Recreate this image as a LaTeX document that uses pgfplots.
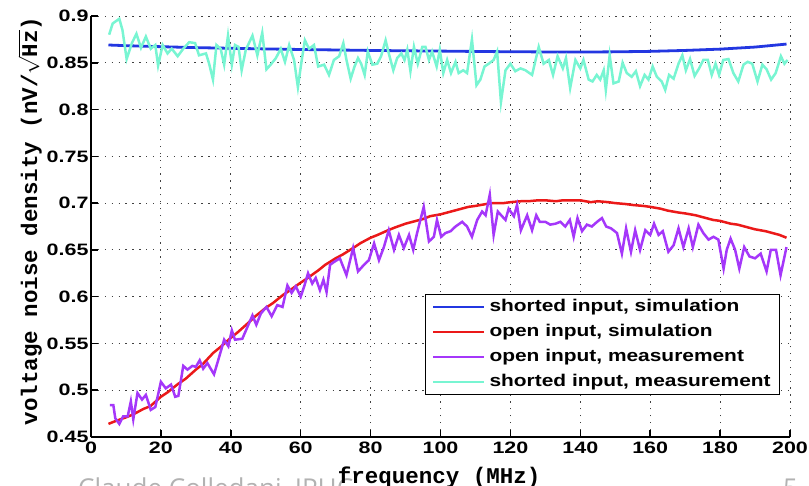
\documentclass[border=0pt]{standalone}
\usepackage{fontspec}
\setmainfont{Liberation Sans}
\newfontfamily\tickfont{Liberation Sans}[FakeStretch=1.3]
\newfontfamily\legfont{Liberation Sans}[FakeStretch=1.23]
\newfontfamily\labfont{Liberation Mono}
\newfontfamily\footfont{Open Sans}
\usepackage{pgfplots}
\pgfplotsset{compat=1.18}
\definecolor{cblue}{RGB}{35,55,225}
\definecolor{cred}{RGB}{235,25,25}
\definecolor{cpurple}{RGB}{165,55,250}
\definecolor{ccyan}{RGB}{120,245,210}
\begin{document}
\begin{tikzpicture}
\node[anchor=base west, inner sep=0pt, text=black!30, font=\footfont\fontsize{26}{28}\selectfont] at (-13pt,-60pt) {Claude Colledani, IPHC};
\node[anchor=base west, inner sep=0pt, text=black!30, font=\footfont\fontsize{26}{28}\selectfont] at (692pt,-60pt) {5};
\begin{axis}[
  at={(0pt,0pt)}, anchor=south west,
  scale only axis, width=699pt, height=421pt,
  xmin=0, xmax=200, ymin=0.45, ymax=0.9,
  xtick={0,20,40,60,80,100,120,140,160,180,200},
  ytick={0.45,0.5,0.55,0.6,0.65,0.7,0.75,0.8,0.85,0.9},
  axis x line*=bottom, axis y line*=left,
  axis line style={line width=2.2pt,-},
  tick style={line width=1.5pt,black},
  major tick length=7pt, tick align=inside,
  grid=major,
  grid style={line width=1pt, black!75, dash pattern=on 1.3pt off 5.6pt},
  /pgf/number format/assume math mode=true,
  ticklabel style={font=\tickfont\bfseries\fontsize{16.5}{18}\selectfont},
  xticklabel style={yshift=-1pt},
  yticklabel style={xshift=1pt},
  xlabel={frequency (MHz)},
  ylabel={voltage noise density (nV/$\sqrt{\mbox{Hz}}$)},
  label style={font=\labfont\bfseries\fontsize{22.5}{24}\selectfont},
  xlabel style={at={(axis description cs:0.498,0)}, anchor=base, yshift=-46pt},
  ylabel style={at={(axis description cs:-0.077,0.513)}, anchor=base},
  legend cell align=left,
  legend image code/.code={\draw[#1,line width=2.5pt] (0pt,0pt) -- (51pt,0pt);},
  legend style={at={(0.986,0.1)}, anchor=south east, draw=black, line width=1pt,
    font=\legfont\bfseries\fontsize{17}{19}\selectfont,
    inner xsep=7pt, inner ysep=2pt,
    nodes={inner sep=2pt, text height=13pt, text depth=4pt},
    row sep=4pt,
    /tikz/every odd column/.append style={column sep=2pt}},
]
\addplot[color=cblue, line width=2.8pt] coordinates {
(5,0.869) (10,0.8683) (20,0.8672) (30,0.8662) (40,0.8655) (50,0.8648) (60,0.8642)
(70,0.8637) (80,0.8632) (90,0.8628) (100,0.8625) (110,0.8621) (120,0.8618)
(130,0.8616) (140,0.8615) (150,0.8617) (160,0.8622) (170,0.8632) (180,0.8646)
(190,0.8668) (199,0.8700)};
\addlegendentry{shorted input, simulation}
\addplot[color=cred, line width=2.5pt] coordinates {
(5,0.464) (7,0.467) (10,0.471) (12,0.474) (15,0.480) (17,0.483) (20,0.493)
(22,0.498) (25,0.507) (27,0.512) (30,0.522) (32,0.528) (35,0.540) (37,0.546)
(40,0.556) (42,0.562) (45,0.572) (47,0.579) (50,0.588) (52,0.593) (55,0.602)
(57,0.607) (60,0.615) (62,0.620) (65,0.628) (67,0.634) (70,0.641) (72,0.645)
(75,0.652) (77,0.657) (80,0.663) (82,0.666) (85,0.671) (87,0.674) (90,0.678)
(92,0.680) (95,0.683) (97,0.686) (100,0.688) (103,0.691) (105,0.693) (108,0.696)
(110,0.697) (113,0.699) (115,0.700) (118,0.700) (120,0.701) (123,0.702) (125,0.702)
(128,0.703) (130,0.703) (133,0.702) (135,0.703) (138,0.703) (140,0.703)
(143,0.701) (145,0.702) (148,0.701) (150,0.700) (153,0.699) (155,0.698)
(158,0.697) (160,0.696) (163,0.694) (165,0.692) (168,0.690) (170,0.689)
(173,0.687) (175,0.685) (178,0.682) (180,0.681) (183,0.678) (185,0.677)
(188,0.674) (190,0.672) (193,0.670) (195,0.668) (197,0.666) (199,0.663)};
\addlegendentry{open input, simulation}
\addplot[color=cpurple, line width=2.5pt] coordinates {
(5.4,0.484) (6.4,0.484) (6.95,0.470) (8.1,0.464) (9.2,0.472) (10.5,0.472)
(11.4,0.488) (12.1,0.469) (13.3,0.497) (14.6,0.490) (15.7,0.495) (17.1,0.479)
(18.4,0.482) (20.0,0.509) (21.4,0.502) (22.9,0.506) (24.1,0.493) (25.0,0.494)
(26.4,0.526) (27.6,0.522) (29.0,0.526) (30.0,0.525) (31.1,0.532) (32.1,0.523)
(33.3,0.529) (35.2,0.517) (36.7,0.536) (38.1,0.554) (39.3,0.547) (40.3,0.564)
(41.2,0.554) (43.3,0.555) (44.8,0.568) (46.2,0.580) (47.3,0.570) (48.6,0.582)
(50.2,0.589) (51.7,0.579) (53.3,0.591) (54.8,0.589) (56.2,0.612) (57.4,0.604)
(58.6,0.611) (60.0,0.600) (61.0,0.611) (62.1,0.625) (63.3,0.614) (64.3,0.620)
(65.5,0.607) (66.5,0.618) (67.4,0.605) (68.4,0.634) (69.5,0.637) (71.2,0.641)
(73.1,0.623) (75.0,0.652) (76.4,0.627) (78.1,0.634) (79.5,0.639) (81.0,0.657)
(82.4,0.639) (83.8,0.653) (85.2,0.671) (86.7,0.650) (88.1,0.666) (89.5,0.652)
(91.0,0.666) (92.2,0.650) (93.3,0.668) (95.2,0.696) (96.7,0.659) (98.1,0.664)
(99.0,0.682) (100.2,0.664) (101.4,0.668) (102.9,0.670) (104.3,0.675) (106.2,0.680)
(107.6,0.675) (109.0,0.664) (110.5,0.682) (111.9,0.691) (112.9,0.687) (114.1,0.709)
(115.2,0.666) (116.4,0.691) (117.6,0.686) (118.6,0.682) (119.5,0.694) (121.0,0.686)
(121.9,0.698) (123.0,0.671) (124.8,0.687) (126.2,0.671) (127.4,0.687) (128.4,0.680)
(130.0,0.680) (131.4,0.677) (132.9,0.678) (134.3,0.680) (135.7,0.675) (137.0,0.682)
(138.1,0.664) (139.2,0.684) (140.5,0.670) (141.9,0.677) (143.3,0.675) (144.8,0.680)
(146.2,0.684) (147.4,0.675) (148.8,0.673) (150.5,0.668) (151.9,0.646) (153.1,0.673)
(154.5,0.648) (155.7,0.671) (157.1,0.650) (158.6,0.671) (160.0,0.666) (161.1,0.678)
(162.4,0.666) (163.6,0.670) (165.2,0.648) (166.7,0.655) (168.1,0.673) (169.5,0.653)
(171.0,0.673) (172.2,0.653) (173.8,0.677) (175.2,0.668) (176.7,0.661) (178.1,0.664)
(179.5,0.661) (181.0,0.630) (181.9,0.650) (183.0,0.662) (184.3,0.650) (185.5,0.630)
(186.9,0.653) (188.4,0.643) (190.0,0.641) (191.6,0.646) (193.3,0.627) (194.5,0.650)
(196.0,0.650) (197.3,0.623) (199.0,0.653)};
\addlegendentry{open input, measurement}
\addplot[color=ccyan, line width=2.5pt] coordinates {
(5.2,0.880) (6.2,0.892) (8.1,0.897) (9.0,0.885) (10.2,0.854) (11.7,0.871)
(13.0,0.881) (14.3,0.866) (15.7,0.878) (17.1,0.865) (18.4,0.869) (19.2,0.847)
(20.5,0.869) (21.9,0.860) (23.1,0.865) (24.8,0.857) (26.4,0.865) (28.1,0.872)
(29.8,0.871) (30.9,0.858) (32.9,0.860) (33.8,0.849) (34.9,0.832) (35.9,0.869)
(37.1,0.865) (38.1,0.848) (39.2,0.879) (40.3,0.848) (41.2,0.869) (42.2,0.867)
(43.1,0.842) (44.3,0.864) (46.2,0.879) (47.6,0.858) (49.0,0.882) (50.2,0.843)
(51.4,0.848) (52.9,0.855) (54.3,0.865) (55.5,0.851) (56.7,0.869) (58.1,0.853)
(59.2,0.824) (60.3,0.853) (61.2,0.874) (62.4,0.865) (63.8,0.869) (65.0,0.846)
(66.7,0.848) (68.1,0.837) (69.5,0.853) (71.0,0.857) (72.2,0.871) (73.1,0.853)
(74.3,0.833) (75.4,0.846) (76.4,0.855) (77.3,0.849) (78.3,0.837) (79.2,0.862)
(80.5,0.848) (81.9,0.849) (83.0,0.857) (84.3,0.874) (85.2,0.860) (86.5,0.842)
(87.6,0.855) (88.8,0.860) (89.7,0.853) (90.5,0.864) (91.4,0.841) (92.4,0.867)
(93.5,0.849) (94.8,0.867) (95.7,0.867) (96.7,0.853) (97.6,0.862) (98.9,0.846)
(99.8,0.864) (100.8,0.839) (101.9,0.853) (103.0,0.839) (104.3,0.851) (105.2,0.839)
(106.5,0.842) (107.6,0.839) (109.0,0.875) (110.3,0.826) (111.4,0.832) (112.6,0.846)
(113.8,0.849) (115.2,0.853) (116.2,0.862) (117.3,0.808) (118.6,0.842) (120.0,0.849)
(121.4,0.841) (122.9,0.844) (124.3,0.842) (126.2,0.837) (128.1,0.867) (129.5,0.849)
(131.0,0.853) (132.2,0.837) (133.5,0.857) (135.0,0.844) (135.9,0.855) (137.1,0.823)
(138.6,0.853) (140.0,0.844) (140.9,0.853) (142.4,0.832) (143.5,0.830) (144.7,0.837)
(145.7,0.832) (146.7,0.842) (147.3,0.821) (148.4,0.858) (149.5,0.828) (151.0,0.830)
(152.1,0.850) (153.3,0.839) (154.7,0.835) (155.9,0.841) (157.1,0.825) (158.4,0.837)
(159.5,0.832) (160.7,0.846) (161.9,0.835) (163.3,0.830) (164.3,0.821) (165.4,0.837)
(166.7,0.833) (168.1,0.849) (169.2,0.858) (170.2,0.842) (171.4,0.854) (172.7,0.836)
(174.0,0.844) (175.2,0.853) (176.5,0.853) (177.6,0.837) (178.7,0.849) (179.7,0.837)
(180.9,0.853) (182.4,0.854) (183.8,0.839) (185.2,0.830) (186.7,0.848) (187.9,0.851)
(189.2,0.849) (190.7,0.830) (192.1,0.848) (193.3,0.843) (194.6,0.832) (195.9,0.839)
(197.4,0.857) (198.4,0.849) (199.3,0.853)};
\addlegendentry{shorted input, measurement}
\end{axis}
\pgfresetboundingbox
\path[use as bounding box] (-91pt,-48pt) rectangle (718pt,437pt);
\end{tikzpicture}
\end{document}
